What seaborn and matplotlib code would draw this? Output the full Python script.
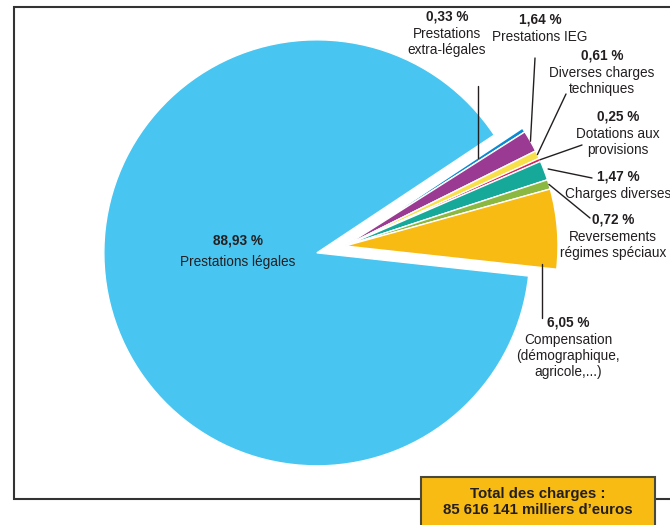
import numpy as np
import matplotlib.pyplot as plt
import seaborn as sns
from matplotlib.patches import Rectangle

# --- data ---
labels = ["Prestations\nextra-légales", "Prestations IEG", "Diverses charges\ntechniques",
          "Dotations aux\nprovisions", "Charges diverses", "Reversements\nrégimes spéciaux",
          "Compensation\n(démographique,\nagricole,...)", "Prestations légales"]
shares = [0.33, 1.64, 0.61, 0.25, 1.47, 0.72, 6.05, 88.93]
pct_text = ["0,33 %", "1,64 %", "0,61 %", "0,25 %", "1,47 %", "0,72 %", "6,05 %", "88,93 %"]
colors = ["#0A8AD2", "#9B3A93", "#F7E04A", "#D8235A", "#16A99A", "#8AB840", "#F8BB14", "#48C5F0"]
total_text = "Total des charges :\n85 616 141 milliers d\u2019euros"

sns.set_theme(style="white")
plt.rcParams['font.family'] = ['Liberation Sans', 'DejaVu Sans']

# pixel layout helper (pie centre at pixel CX, CY, radius R px)
CX, CY, R = 345, 246, 213
W, H = 670, 525


def px(x, y):
    return (x - CX) / R, (CY - y) / R


fig = plt.figure(figsize=(6.7, 5.25), dpi=100)
ax = fig.add_axes([0, 0, 1, 1])

explode = [0] * 7 + [0.136]
wedges, _ = ax.pie(shares, colors=colors, explode=explode, startangle=33.6,
                   counterclock=False, radius=1.0,
                   wedgeprops=dict(edgecolor='white', linewidth=1.0))
ax.set_xlim(-CX / R, (W - CX) / R)
ax.set_ylim(-(H - CY) / R, CY / R)
ax.axis('off')

ink = '#231f20'
fs = 9.8
# label layout: (centre x px, pct y px, leader end px (x None = vertical), start radius, position in wedge)
layout = [
    (447, 17, (None, 86), 0.75, 1.0),
    (540, 20, (535, 58), 1.0, 0.5),
    (602, 56, (566, 94), 1.0, 0.5),
    (618, 117, (582, 145), 1.0, 0.5),
    (618, 177, (592, 178), 1.02, 0.5),
    (613, 220, (590, 218), 1.0, 0.5),
    (568, 323, (None, 318), 0.93, 0.05),
]

for i, (lx, ly, end, rs, frac) in enumerate(layout):
    w = wedges[i]
    ang = np.deg2rad(w.theta1 + frac * (w.theta2 - w.theta1))
    cx, cy = w.center
    start = (cx + rs * np.cos(ang), cy + rs * np.sin(ang))
    if end[0] is None:
        e = (start[0], px(0, end[1])[1])
    else:
        e = px(*end)
    ax.plot([start[0], e[0]], [start[1], e[1]], color=ink, lw=1.0)
    ax.text(*px(lx, ly), pct_text[i], ha='center', va='center', fontsize=fs,
            fontweight='bold', color=ink)
    ax.text(*px(lx, ly + 10), labels[i], ha='center', va='top', fontsize=fs,
            color=ink, linespacing=1.2)

# big slice label
ax.text(*px(238, 241), pct_text[7], ha='center', va='center', fontsize=fs,
        fontweight='bold', color=ink)
ax.text(*px(238, 262), labels[7], ha='center', va='center', fontsize=fs, color=ink)

# frame
ax.plot([px(W, 7)[0], px(14, 7)[0], px(14, 499)[0], px(W, 499)[0]],
        [px(W, 7)[1], px(14, 7)[1], px(14, 499)[1], px(W, 499)[1]],
        color='#333333', lw=1.5, solid_joinstyle='miter', clip_on=False)

# total box
x0, y0 = px(421, 530)
x1, y1 = px(655, 477)
ax.add_patch(Rectangle((x0, y0), x1 - x0, y1 - y0, facecolor='#F8BB14',
                       edgecolor='#4a4a3a', lw=1.5, zorder=5, clip_on=False))
ax.text(*px(538, 502), total_text, ha='center', va='center', fontsize=10.8,
        fontweight='bold', color=ink, linespacing=1.25, zorder=6)

fig.savefig('out.png', dpi=100)
